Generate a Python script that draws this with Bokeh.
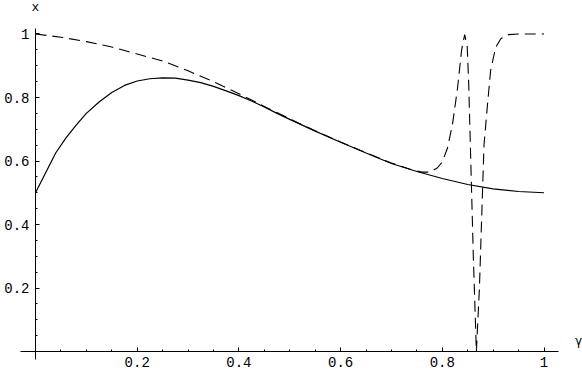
from bokeh.plotting import figure
from bokeh.models import LinearAxis, FixedTicker, CustomJSTickFormatter, Label, Range1d
from bokeh.embed import file_html
from bokeh.resources import INLINE

# ---- data ----
solid_g = [0.0, 0.02, 0.04, 0.06, 0.08, 0.10, 0.125, 0.15, 0.175, 0.20, 0.225, 0.25,
           0.275, 0.30, 0.325, 0.35, 0.375, 0.40, 0.425, 0.45, 0.475, 0.50, 0.55, 0.60,
           0.65, 0.70, 0.75, 0.80, 0.85, 0.90, 0.95, 1.0]
solid_x = [0.50, 0.563, 0.626, 0.673, 0.713, 0.750, 0.786, 0.816, 0.838, 0.852, 0.859, 0.862,
           0.861, 0.855, 0.847, 0.835, 0.821, 0.806, 0.789, 0.770, 0.750, 0.731, 0.694, 0.659,
           0.625, 0.592, 0.567, 0.545, 0.526, 0.512, 0.504, 0.500]

dash_g = [0.0, 0.05, 0.10, 0.15, 0.20, 0.25, 0.30, 0.35, 0.40, 0.45, 0.50, 0.55, 0.60,
          0.65, 0.70, 0.74, 0.76, 0.775, 0.79, 0.80, 0.81, 0.82, 0.83, 0.838, 0.844,
          0.849, 0.852, 0.855, 0.861, 0.867, 0.873, 0.877, 0.882, 0.889, 0.895, 0.905,
          0.915, 0.93, 0.95, 1.0]
dash_x = [1.0, 0.990, 0.976, 0.959, 0.937, 0.915, 0.884, 0.850, 0.812, 0.772, 0.733, 0.695, 0.660,
          0.626, 0.594, 0.572, 0.565, 0.565, 0.578, 0.597, 0.640, 0.715, 0.830, 0.950, 0.998,
          0.960, 0.840, 0.660, 0.300, 0.0, 0.200, 0.400, 0.650, 0.780, 0.885, 0.958,
          0.985, 0.998, 1.0, 1.0]

x_major = [0.2, 0.4, 0.6, 0.8, 1.0]
x_minor = [0.05, 0.1, 0.15, 0.25, 0.3, 0.35, 0.45, 0.5, 0.55, 0.65, 0.7, 0.75, 0.85, 0.9, 0.95]
y_major = [0.2, 0.4, 0.6, 0.8, 1.0]
y_minor = [0.05, 0.1, 0.15, 0.25, 0.3, 0.35, 0.45, 0.5, 0.55, 0.65, 0.7, 0.75, 0.85, 0.9, 0.95]

FONT = "Liberation Mono"

p = figure(width=582, height=374, output_backend="svg", toolbar_location=None,
           x_range=Range1d(-0.0688, 1.0757), y_range=Range1d(-0.0724, 1.1055),
           x_axis_location=None, y_axis_location=None, min_border=0,
           outline_line_color=None, background_fill_color="white", border_fill_color="white")
p.xgrid.visible = False
p.ygrid.visible = False

fmt = CustomJSTickFormatter(code="return String(Number(tick.toFixed(2)));")

xax = LinearAxis(fixed_location=0, bounds=(-0.0295, 1.0285),
                 ticker=FixedTicker(ticks=x_major, minor_ticks=x_minor), formatter=fmt)
yax = LinearAxis(fixed_location=0, bounds=(-0.025, 1.017),
                 ticker=FixedTicker(ticks=y_major, minor_ticks=y_minor), formatter=fmt)
for ax in (xax, yax):
    ax.axis_line_color = "black"
    ax.axis_line_width = 1
    ax.major_tick_in = 4
    ax.major_tick_out = 0
    ax.minor_tick_in = 2
    ax.minor_tick_out = 0
    ax.major_tick_line_color = "black"
    ax.minor_tick_line_color = "black"
    ax.major_label_text_font = FONT
    ax.major_label_text_font_size = "14px"
    ax.major_label_text_color = "black"
xax.major_label_standoff = 5
yax.major_label_standoff = 6
p.add_layout(xax, "below")
p.add_layout(yax, "left")

p.line(solid_g, solid_x, line_color="black", line_width=1.2)
p.line(dash_g, dash_x, line_color="black", line_width=1.1, line_dash="11 6")

# axis names
p.add_layout(Label(x=0.0, y=1.0835, text="x", text_align="center", text_baseline="middle",
                   text_font=FONT, text_font_size="13px", text_color="black"))
p.add_layout(Label(x=1.0678, y=0.032, text="γ", text_align="center", text_baseline="middle",
                   text_font="DejaVu Sans", text_font_size="12px", text_color="black"))

open("out.html", "w").write(file_html(p, INLINE))
